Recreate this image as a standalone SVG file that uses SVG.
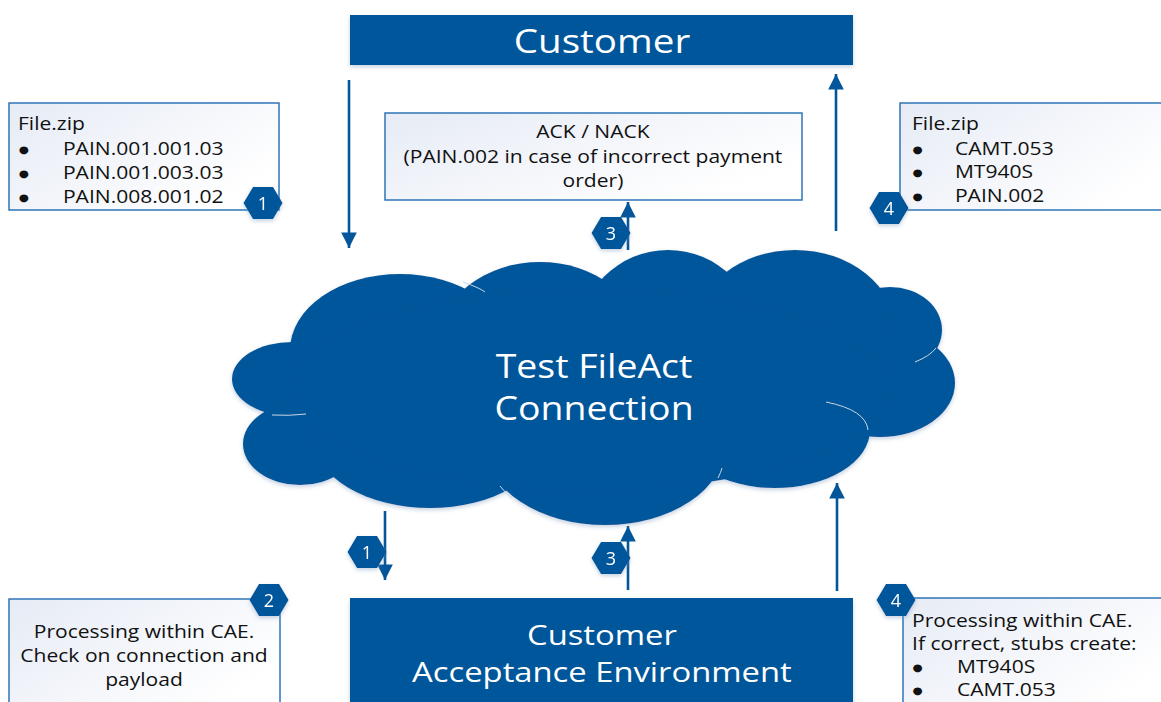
<svg xmlns="http://www.w3.org/2000/svg" width="1161" height="702" viewBox="0 0 1161 702">
<defs>
<style>
.dark{fill:#03569a;}
.box{stroke:#2e75b6;stroke-width:1.5;fill:url(#lg);}
.t{font-family:"Open Sans","Noto Sans",sans-serif;fill:#111;font-size:18px;}
.b{font-family:"DejaVu Sans",sans-serif;fill:#111;font-size:10px;text-anchor:middle;}
.w{font-family:"Open Sans","Noto Sans",sans-serif;fill:#fff;}
.c{text-anchor:middle;}
.arr{stroke:#03569a;stroke-width:2.6;fill:none;marker-end:url(#ah);}
.hx{fill:#03569a;}
.hn{font-family:"Open Sans","Noto Sans",sans-serif;fill:#fff;font-size:18px;text-anchor:middle;}
.hl{fill:none;stroke:#c9d6e6;stroke-width:1;}
</style>
<linearGradient id="lg" x1="0" y1="0" x2="1" y2="0.6">
<stop offset="0" stop-color="#e6ebf5"/>
<stop offset="1" stop-color="#ffffff"/>
</linearGradient>
<marker id="ah" viewBox="0 0 10 10" refX="10" refY="5" markerWidth="6" markerHeight="6" markerUnits="strokeWidth" orient="auto">
<path d="M0,0 L10,5 L0,10 Z" fill="#03569a"/>
</marker>
<filter id="sh" x="-10%" y="-10%" width="120%" height="130%">
<feDropShadow dx="0" dy="2" stdDeviation="2" flood-color="#7d99bb" flood-opacity="0.45"/>
</filter>
<polygon id="hex" points="-19.5,0 -10,-16 10,-16 19.5,0 10,16 -10,16"/>
</defs>

<g id="connectors">
<line class="arr" x1="349" y1="80" x2="349" y2="248"/>
<line class="arr" x1="836" y1="231" x2="836" y2="74"/>
<line class="arr" x1="628" y1="250" x2="628" y2="202"/>
<line class="arr" x1="385" y1="511" x2="385" y2="580"/>
<line class="arr" x1="628" y1="590" x2="628" y2="526"/>
<line class="arr" x1="837" y1="591" x2="837" y2="483"/>
</g>

<g id="customer">
<rect class="dark" x="350" y="15" width="503" height="50" filter="url(#sh)"/>
<g transform="scale(1.17 1)"><text class="w c" x="514.5" y="53" font-size="33">Customer</text></g>
</g>

<g id="cloud" filter="url(#sh)">
<g class="dark">
<ellipse cx="292" cy="379" rx="60" ry="37"/>
<ellipse cx="300" cy="444" rx="57" ry="41"/>
<ellipse cx="430" cy="440" rx="115" ry="68"/>
<ellipse cx="605" cy="445" rx="120" ry="80"/>
<ellipse cx="775" cy="430" rx="95" ry="58"/>
<ellipse cx="880" cy="383" rx="75" ry="54"/>
<ellipse cx="890" cy="330" rx="52" ry="43"/>
<ellipse cx="795" cy="330" rx="100" ry="80"/>
<ellipse cx="668" cy="340" rx="90" ry="90"/>
<ellipse cx="540" cy="340" rx="100" ry="78"/>
<ellipse cx="400" cy="350" rx="110" ry="76"/>
<ellipse cx="590" cy="390" rx="300" ry="100"/>
</g>
</g>
<g id="cloud-label">
<path class="hl" d="M463,282 Q480,288 485,292"/>
<path class="hl" d="M272,415 Q290,416 306,414"/>
<path class="hl" d="M500,486 Q506,494 512,498"/>
<path class="hl" d="M826,402 Q866,410 868,430"/>
<path class="hl" d="M915,362 Q930,356 936,348"/>
<path class="hl" d="M722,468 Q721,472 718,478"/>
<g transform="scale(1.17 1)">
<text class="w c" x="507.7" y="378" font-size="32">Test FileAct</text>
<text class="w c" x="507.7" y="420" font-size="32">Connection</text>
</g>
</g>

<g id="file-in">
<rect class="box" x="9" y="103" width="270" height="107"/>
<g transform="scale(1.17 1)">
<text class="t" x="15.4" y="130">File.zip</text>
<text class="b" x="20.5" y="153">●</text><text class="t" x="53.8" y="155">PAIN.001.001.03</text>
<text class="b" x="20.5" y="177">●</text><text class="t" x="53.8" y="179">PAIN.001.003.03</text>
<text class="b" x="20.5" y="201">●</text><text class="t" x="53.8" y="203">PAIN.008.001.02</text>
</g>
</g>

<g id="file-out">
<rect class="box" x="900" y="103" width="270" height="107"/>
<g transform="scale(1.17 1)">
<text class="t" x="779.5" y="130">File.zip</text>
<text class="b" x="784.2" y="153">●</text><text class="t" x="816.2" y="155">CAMT.053</text>
<text class="b" x="784.2" y="176">●</text><text class="t" x="816.2" y="178">MT940S</text>
<text class="b" x="784.2" y="200">●</text><text class="t" x="816.2" y="202">PAIN.002</text>
</g>
</g>

<g id="ack">
<rect class="box" x="385" y="113" width="417" height="87"/>
<g transform="scale(1.17 1)">
<text class="t c" x="506.8" y="138">ACK / NACK</text>
<text class="t c" x="506.8" y="163">(PAIN.002 in case of incorrect payment</text>
<text class="t c" x="506.8" y="187">order)</text>
</g>
</g>

<g id="cae">
<rect class="dark" x="350" y="598" width="503" height="110" filter="url(#sh)"/>
<g transform="scale(1.17 1)">
<text class="w c" x="514.5" y="645" font-size="28">Customer</text>
<text class="w c" x="514.5" y="682" font-size="28">Acceptance Environment</text>
</g>
</g>

<g id="processing-left">
<rect class="box" x="9" y="599" width="271" height="110"/>
<g transform="scale(1.17 1)">
<text class="t c" x="123.1" y="638">Processing within CAE.</text>
<text class="t c" x="123.1" y="662">Check on connection and</text>
<text class="t c" x="123.1" y="686">payload</text>
</g>
</g>

<g id="processing-right">
<rect class="box" x="903" y="598" width="270" height="110"/>
<g transform="scale(1.17 1)">
<text class="t" x="779.5" y="627">Processing within CAE.</text>
<text class="t" x="779.5" y="650">If correct, stubs create:</text>
<text class="b" x="784.2" y="671">●</text><text class="t" x="818" y="673">MT940S</text>
<text class="b" x="784.2" y="694">●</text><text class="t" x="818" y="696">CAMT.053</text>
</g>
</g>

<g id="badge-1-top" filter="url(#sh)"><use href="#hex" class="hx" x="263" y="203"/><text class="hn" x="263" y="209.5">1</text></g>
<g id="badge-4-top" filter="url(#sh)"><use href="#hex" class="hx" x="889" y="208"/><text class="hn" x="889" y="214.5">4</text></g>
<g id="badge-3-top" filter="url(#sh)"><use href="#hex" class="hx" x="611" y="233"/><text class="hn" x="611" y="239.5">3</text></g>
<g id="badge-1-bottom" filter="url(#sh)"><use href="#hex" class="hx" x="367" y="552"/><text class="hn" x="367" y="558.5">1</text></g>
<g id="badge-3-bottom" filter="url(#sh)"><use href="#hex" class="hx" x="611" y="558"/><text class="hn" x="611" y="564.5">3</text></g>
<g id="badge-2" filter="url(#sh)"><use href="#hex" class="hx" x="269" y="600"/><text class="hn" x="269" y="606.5">2</text></g>
<g id="badge-4-bottom" filter="url(#sh)"><use href="#hex" class="hx" x="896" y="600"/><text class="hn" x="896" y="606.5">4</text></g>
</svg>
